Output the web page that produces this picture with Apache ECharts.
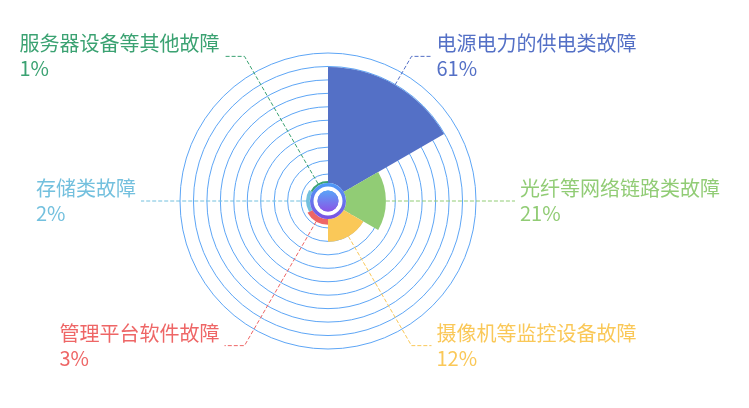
<!DOCTYPE html>
<html lang="zh">

<head>
    <meta charset="UTF-8">
    <title>故障类型占比</title>
    <script src="https://cdn.jsdelivr.net/npm/echarts@6/dist/echarts.min.js"></script>
    <style>
        html, body { margin: 0; padding: 0; background: #fff; }
        #chart1 { width: 749px; height: 408px; }
    </style>
</head>

<body>
    <div id="chart1"></div>
    <script type="text/javascript">
        // 故障类型 与 占比(%)
        var categories = ['电源电力的供电类故障', '光纤等网络链路类故障', '摄像机等监控设备故障', '管理平台软件故障', '存储类故障', '服务器设备等其他故障'];
        var values = [61, 21, 12, 3, 2, 1];
        var colors = ['#5470c6', '#91cc75', '#fac858', '#ee6666', '#73c0de', '#3ba272'];
        var ringCount = 11; // 背景同心圆个数

        var center = [328, 201];
        var chart1 = echarts.init(document.getElementById('chart1'));

        // 标签文字颜色跟扇区一致
        var pieData = [];
        for (var i = 0; i < categories.length; i++) {
            pieData.push({
                name: categories[i],
                value: values[i],
                label: { color: colors[i] },
                labelLine: { lineStyle: { color: colors[i] } }
            });
        }

        // 中心圆的渐变
        function centerGradient(c1, c2) {
            return new echarts.graphic.LinearGradient(0, 0, 0, 1, [
                { offset: 0, color: c1 },
                { offset: 1, color: c2 }
            ]);
        }

        var option = {
            backgroundColor: '#fff',
            color: colors,
            // 背景同心圆用极坐标的分隔线画
            polar: {
                center: center,
                radius: 148
            },
            angleAxis: {
                show: false,
                min: 0,
                max: 360
            },
            radiusAxis: {
                type: 'value',
                min: 0,
                max: ringCount,
                interval: 1,
                axisLine: { show: false },
                axisTick: { show: false },
                axisLabel: { show: false },
                splitLine: {
                    show: true,
                    lineStyle: { color: '#5ea6f6', width: 1 }
                }
            },
            series: [{
                name: '故障类型',
                type: 'pie',
                roseType: 'area',
                center: center,
                radius: [18, 134],
                startAngle: 90,
                clockwise: true,
                avoidLabelOverlap: false,
                z: 3,
                label: {
                    show: true,
                    fontFamily: 'Noto Sans CJK SC',
                    formatter: function (p) {
                        return '{n|' + p.name + '}\n{v|' + p.value + '%}';
                    },
                    rich: {
                        n: { fontSize: 20, lineHeight: 25, align: 'left', fontFamily: 'Noto Sans CJK SC' },
                        v: { fontSize: 20, lineHeight: 25, align: 'left', fontFamily: 'Noto Sans CJK SC' }
                    }
                },
                labelLine: {
                    show: true,
                    length: 33,
                    length2: 20,
                    lineStyle: { type: 'dashed', width: 1 }
                },
                emphasis: { scale: false },
                data: pieData
            }, {
                // 中心外圈
                type: 'pie',
                center: center,
                radius: [0, 18],
                silent: true,
                z: 4,
                label: { show: false },
                labelLine: { show: false },
                itemStyle: { color: centerGradient('#4c9cf8', '#7c4fe2') },
                data: [1]
            }, {
                // 白色圆环
                type: 'pie',
                center: center,
                radius: [10.5, 14.5],
                silent: true,
                z: 5,
                label: { show: false },
                labelLine: { show: false },
                itemStyle: { color: '#fff' },
                data: [1]
            }, {
                // 中心内圆
                type: 'pie',
                center: center,
                radius: [0, 10.5],
                silent: true,
                z: 6,
                label: { show: false },
                labelLine: { show: false },
                itemStyle: { color: centerGradient('#5aa4f8', '#8a55e6') },
                data: [1]
            }]
        };

        chart1.setOption(option);
    </script>
</body>

</html>
